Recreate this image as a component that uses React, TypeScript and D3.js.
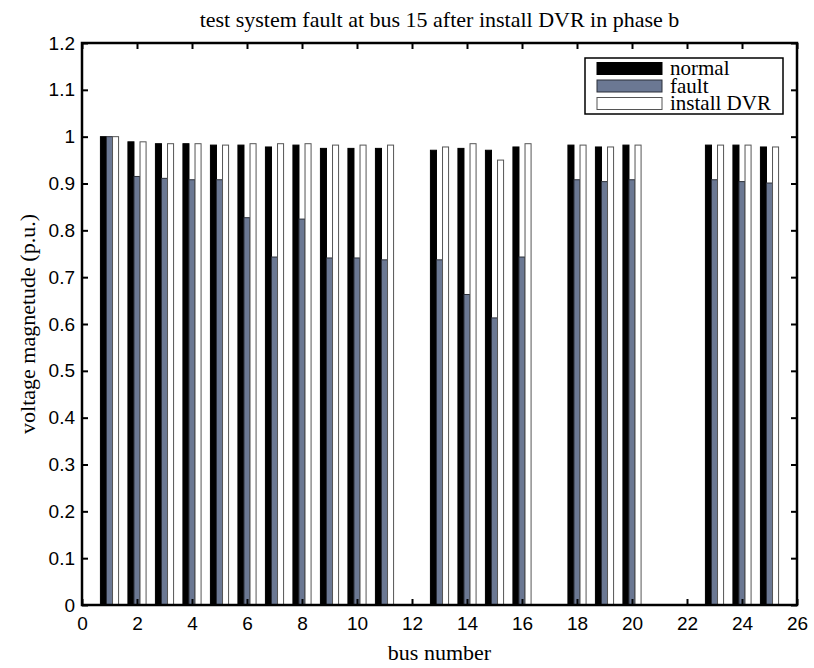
import React, { useEffect, useRef } from "react";
import * as d3 from "d3";

const width = 814;
const height = 668;
const margin = { top: 43, right: 17, bottom: 63, left: 82 };

// bus numbers and voltage magnitudes (p.u.)
const buses = d3.range(1, 26);
const normal = [
  1.0, 0.989, 0.985, 0.985, 0.982, 0.982, 0.978, 0.982, 0.975, 0.975, 0.975, 0,
  0.971, 0.975, 0.971, 0.978, 0, 0.982, 0.978, 0.982, 0, 0, 0.982, 0.982, 0.978,
];
const fault = [
  1.0, 0.915, 0.911, 0.908, 0.908, 0.827, 0.743, 0.824, 0.741, 0.741, 0.737, 0,
  0.737, 0.663, 0.613, 0.743, 0, 0.908, 0.904, 0.908, 0, 0, 0.908, 0.904, 0.901,
];
const dvr = [
  1.0, 0.989, 0.985, 0.985, 0.982, 0.985, 0.985, 0.985, 0.982, 0.982, 0.982, 0,
  0.978, 0.985, 0.95, 0.985, 0, 0.982, 0.978, 0.982, 0, 0, 0.982, 0.982, 0.978,
];
const seriesNames = ["normal", "fault", "install DVR"];
const xTicks = d3.range(0, 27, 2);
const yTicks = d3.range(13).map((i) => i / 10);

const fills = ["#000000", "#6b7893", "#ffffff"];
const strokes = ["#000000", "#2b2f38", "#555555"];
const serif = "'Liberation Serif', 'Times New Roman', serif";
const sans = "'Liberation Sans', Arial, sans-serif";

export default function App() {
  const ref = useRef<SVGSVGElement>(null);

  useEffect(() => {
    const svg = d3.select(ref.current);
    svg.selectAll("*").remove();

    const innerW = width - margin.left - margin.right;
    const innerH = height - margin.top - margin.bottom;

    const x = d3.scaleLinear().domain([0, 26]).range([0, innerW]);
    const y = d3.scaleLinear().domain([0, 1.2]).range([innerH, 0]);

    const g = svg
      .append("g")
      .attr("transform", `translate(${margin.left}, ${margin.top})`);

    // bars, three per bus
    const barW = 0.22;
    const series = [normal, fault, dvr];
    series.forEach((values, si) => {
      g.append("g")
        .selectAll("rect")
        .data(buses.map((b, i) => ({ bus: b, v: values[i] })))
        .join("rect")
        .attr("x", (d) => x(d.bus + (si - 1) * barW - barW / 2))
        .attr("y", (d) => y(d.v))
        .attr("width", x(barW) - x(0))
        .attr("height", (d) => innerH - y(d.v))
        .style("fill", fills[si])
        .style("stroke", strokes[si])
        .style("stroke-width", 1);
    });

    const fmt = (d: d3.NumberValue) => String(+(+d).toFixed(1));

    // axes, ticks pointing inward
    const xAxis = g
      .append("g")
      .attr("transform", `translate(0, ${innerH})`)
      .call(
        d3.axisBottom(x).tickValues(xTicks).tickSize(-6).tickPadding(12).tickFormat(fmt)
      );
    const yAxis = g
      .append("g")
      .call(
        d3.axisLeft(y).tickValues(yTicks).tickSize(-6).tickPadding(7).tickFormat(fmt)
      );
    g.append("g")
      .call(d3.axisTop(x).tickValues(xTicks).tickSize(-6).tickFormat(() => ""));
    g.append("g")
      .attr("transform", `translate(${innerW}, 0)`)
      .call(d3.axisRight(y).tickValues(yTicks).tickSize(-6).tickFormat(() => ""));

    g.selectAll(".domain").remove();
    g.selectAll(".tick line").attr("stroke", "#000").attr("stroke-width", 2);
    [xAxis, yAxis].forEach((a) =>
      a
        .selectAll("text")
        .style("font-family", sans)
        .style("font-size", "19px")
        .attr("fill", "#000")
    );

    // axes box
    g.append("rect")
      .attr("width", innerW)
      .attr("height", innerH)
      .attr("fill", "none")
      .attr("stroke", "#000")
      .attr("stroke-width", 2.5);

    // title and labels
    svg
      .append("text")
      .attr("x", margin.left + innerW / 2)
      .attr("y", 27)
      .attr("text-anchor", "middle")
      .style("font-family", serif)
      .style("font-size", "22px")
      .text("test system fault at bus 15 after install DVR in phase b");
    svg
      .append("text")
      .attr("x", margin.left + innerW / 2)
      .attr("y", 660)
      .attr("text-anchor", "middle")
      .style("font-family", serif)
      .style("font-size", "22px")
      .text("bus number");
    svg
      .append("text")
      .attr("transform", `translate(35, ${margin.top + innerH / 2}) rotate(-90)`)
      .attr("text-anchor", "middle")
      .style("font-family", serif)
      .style("font-size", "22px")
      .text("voltage magnetude (p.u.)");

    // legend
    const leg = svg.append("g").attr("transform", "translate(585, 58)");
    leg
      .append("rect")
      .attr("width", 198)
      .attr("height", 56)
      .attr("fill", "#fff")
      .attr("stroke", "#000")
      .attr("stroke-width", 1.5);
    seriesNames.forEach((name, i) => {
      leg
        .append("rect")
        .attr("x", 12)
        .attr("y", 4.5 + i * 17.5)
        .attr("width", 65)
        .attr("height", 12)
        .style("fill", fills[i])
        .style("stroke", strokes[i])
        .style("stroke-width", 1);
      leg
        .append("text")
        .attr("x", 85)
        .attr("y", 17 + i * 17.5)
        .style("font-family", serif)
        .style("font-size", "21px")
        .text(name);
    });
  }, []);

  return (
    <svg
      ref={ref}
      width={width}
      height={height}
      style={{ position: "absolute", left: 0, top: 0, background: "#fff" }}
    />
  );
}
